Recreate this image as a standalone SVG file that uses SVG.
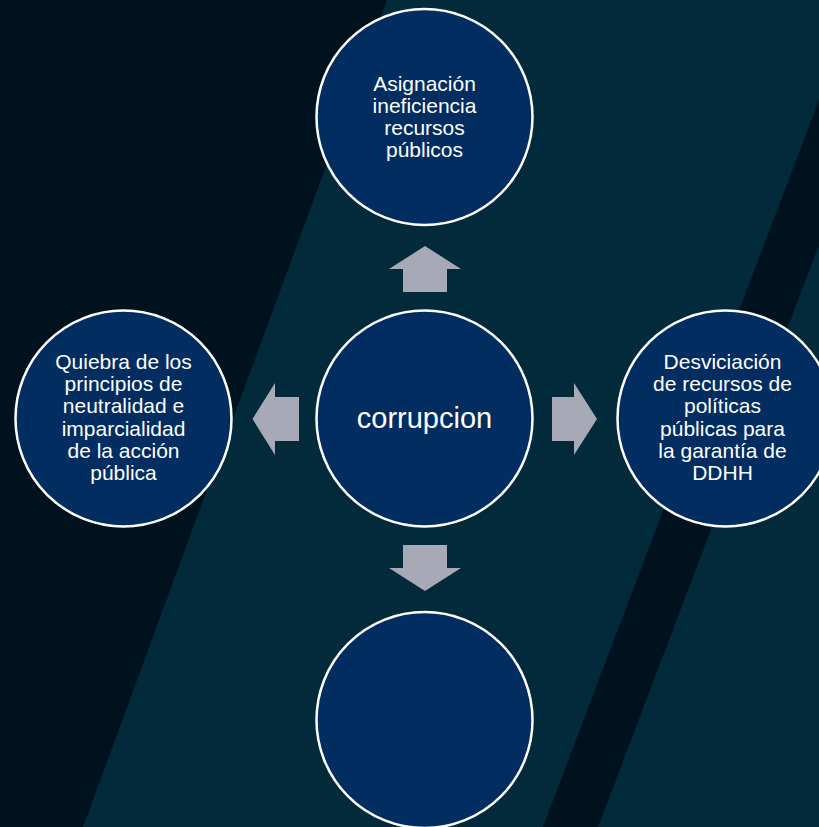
<svg xmlns="http://www.w3.org/2000/svg" width="819" height="827" viewBox="0 0 819 827">
  <style>
    .node circle { fill: #012d61; stroke: #ffffff; stroke-width: 2.5; }
    .node text { fill: #ffffff; font-family: "Liberation Sans", Arial, sans-serif; font-size: 21px; text-anchor: middle; }
    .node text.big { font-size: 29px; }
    .arrow { fill: #a7a9b6; }
  </style>
  <rect x="0" y="0" width="819" height="827" fill="#022a3a"/>
  <polygon points="0,0 387,0 83,827 0,827" fill="#01121f"/>
  <polygon points="819,100 819,245 598,827 543,827" fill="#01121f"/>

  <g id="connectors">
    <polygon class="arrow" points="425,246 461,269 447,269 447,292 403,292 403,269 389,269"/>
    <polygon class="arrow" points="425,591 461,568 447,568 447,545 403,545 403,568 389,568"/>
    <polygon class="arrow" points="597,419 574,383 574,397 552,397 552,441 574,441 574,455"/>
    <polygon class="arrow" points="252.5,419 275,383 275,397 299,397 299,441 275,441 275,455"/>
  </g>

  <g id="node-center" class="node">
    <circle cx="424.5" cy="418.5" r="108"/>
    <text class="big" x="424.5" y="428">corrupcion</text>
  </g>

  <g id="node-top" class="node">
    <circle cx="424.5" cy="117" r="108"/>
    <text x="424.5" y="90.7">Asignación</text>
    <text x="424.5" y="112.7">ineficiencia</text>
    <text x="424.5" y="134.9">recursos</text>
    <text x="424.5" y="156.7">públicos</text>
  </g>

  <g id="node-left" class="node">
    <circle cx="123.5" cy="418.5" r="108"/>
    <text x="123.5" y="369">Quiebra de los</text>
    <text x="123.5" y="391.2">principios de</text>
    <text x="123.5" y="413.4">neutralidad e</text>
    <text x="123.5" y="435.6">imparcialidad</text>
    <text x="123.5" y="457.8">de la acción</text>
    <text x="123.5" y="480">pública</text>
  </g>

  <g id="node-right" class="node">
    <circle cx="725.5" cy="418.5" r="108"/>
    <text x="722.5" y="369">Desviciación</text>
    <text x="722.5" y="391.2">de recursos de</text>
    <text x="722.5" y="413.4">políticas</text>
    <text x="722.5" y="435.6">públicas para</text>
    <text x="722.5" y="457.8">la garantía de</text>
    <text x="722.5" y="480">DDHH</text>
  </g>

  <g id="node-bottom" class="node">
    <circle cx="424.5" cy="720" r="108"/>
  </g>
</svg>
